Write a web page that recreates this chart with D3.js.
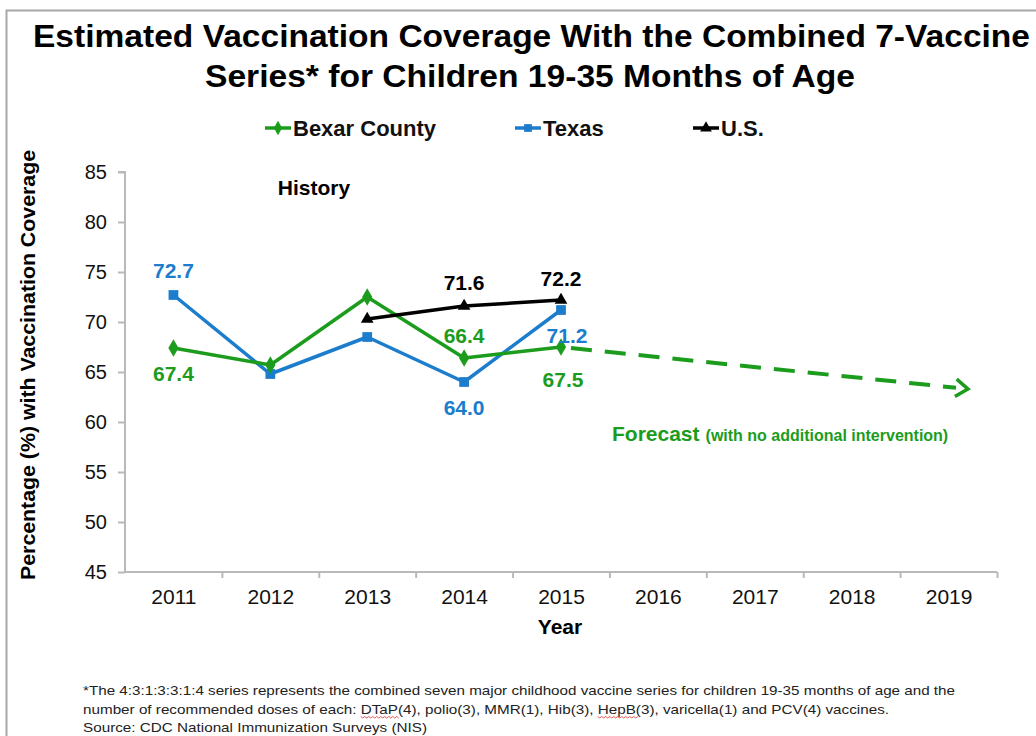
<!DOCTYPE html>
<html>
<head>
<meta charset="utf-8">
<script src="https://cdn.jsdelivr.net/npm/d3@7"></script>
<style>
  html, body { margin: 0; padding: 0; background: #fff; }
  svg text { font-family: "Liberation Sans", Arial, sans-serif; }
</style>
</head>
<body>
<svg id="chart" width="1036" height="736"></svg>
<script>
// Estimated 4:3:1:3:3:1:4 coverage, children 19-35 months
const years = [2011, 2012, 2013, 2014, 2015, 2016, 2017, 2018, 2019];
const bexarYears = [2011, 2012, 2013, 2014, 2015];
const bexarValues = [67.4, 65.7, 72.5, 66.4, 67.5];
const texasYears = [2011, 2012, 2013, 2014, 2015];
const texasValues = [72.7, 64.8, 68.5, 64.0, 71.2];
const usYears = [2013, 2014, 2015];
const usValues = [70.3, 71.6, 72.2];
// Projected trend for Bexar County without intervention
const forecastYears = [2015, 2019.2];
const forecastValues = [67.5, 63.3];
const yTicks = [45, 50, 55, 60, 65, 70, 75, 80, 85];

// Data labels: [year, value, dx, dy]
const bexarLabels = [[2011, 67.4, 0, 33], [2014, 66.4, 0, -15.5], [2015, 67.5, 2, 39.5]];
const texasLabels = [[2011, 72.7, 0, -17], [2014, 64.0, 0, 32.5], [2015, 71.2, 6, 32.5]];
const usLabels = [[2014, 71.6, 0, -16.5], [2015, 72.2, 0, -14.5]];

const GREEN = "#1c9c1c";
const BLUE = "#1b7dcc";
const BLACK = "#000000";
const AXIS = "#b9b9b9";
const FONT = "'Liberation Sans', Arial, sans-serif";

const svg = d3.select("#chart");

// Outer frame
svg.append("path")
  .attr("d", "M6.5,736 L6.5,10.5 L1036,10.5")
  .attr("fill", "none").attr("stroke", "#a8a8a8").attr("stroke-width", 2);

// Title
const title = svg.append("g").attr("font-weight", "bold").attr("font-size", 32).attr("fill", "#000");
title.append("text").attr("x", 33).attr("y", 47)
  .attr("textLength", 997).attr("lengthAdjust", "spacingAndGlyphs")
  .text("Estimated Vaccination Coverage With the Combined 7-Vaccine");
title.append("text").attr("x", 205).attr("y", 87)
  .attr("textLength", 650).attr("lengthAdjust", "spacingAndGlyphs")
  .text("Series* for Children 19-35 Months of Age");

// Scales
const x = d3.scaleLinear().domain([2010.5, 2019.5]).range([125, 997]);
const y = d3.scaleLinear().domain([45, 85]).range([572, 172]);

// Y axis
const yAxis = svg.append("g").attr("transform", "translate(125,0)")
  .call(d3.axisLeft(y).tickValues(yTicks).tickSize(7).tickPadding(11).tickFormat(d3.format("d")));
yAxis.select(".domain").attr("stroke", AXIS).attr("stroke-width", 2)
  .attr("d", `M-7,${y(85)}H0V${y(45)}`);
yAxis.selectAll(".tick line").attr("stroke", AXIS).attr("stroke-width", 2);
yAxis.selectAll(".tick text").attr("font-size", 20).attr("fill", "#111").attr("font-family", FONT);

// X axis: tick marks between categories, labels at category centers
const boundaries = d3.range(10).map(i => 2010.5 + i);
const xTicks = svg.append("g").attr("transform", `translate(0,${y(45)})`)
  .call(d3.axisBottom(x).tickValues(boundaries).tickSize(6).tickFormat(""));
xTicks.select(".domain").attr("stroke", AXIS).attr("stroke-width", 2)
  .attr("d", `M${x(2010.5)},0H${x(2019.5)}`);
xTicks.selectAll(".tick line").attr("stroke", AXIS).attr("stroke-width", 2);
xTicks.selectAll(".tick").filter(d => d === 2010.5).remove();

const xLabels = svg.append("g").attr("transform", `translate(0,${y(45)})`)
  .call(d3.axisBottom(x).tickValues(years).tickSize(0).tickPadding(17).tickFormat(d3.format("d")));
xLabels.select(".domain").remove();
xLabels.selectAll(".tick text").attr("font-size", 21).attr("fill", "#111").attr("font-family", FONT);

// Axis titles
svg.append("text").attr("x", 560).attr("y", 634).attr("text-anchor", "middle")
  .attr("font-size", 21).attr("font-weight", "bold").text("Year");
svg.append("text").attr("transform", "translate(35,365) rotate(-90)").attr("text-anchor", "middle")
  .attr("font-size", 21).attr("font-weight", "bold")
  .attr("textLength", 430).attr("lengthAdjust", "spacingAndGlyphs")
  .text("Percentage (%) with Vaccination Coverage");

// Annotations
svg.append("text").attr("x", 314).attr("y", 195).attr("text-anchor", "middle")
  .attr("font-size", 21).attr("font-weight", "bold").text("History");
const fc = svg.append("text").attr("x", 612).attr("y", 441).attr("fill", GREEN).attr("font-weight", "bold");
fc.append("tspan").attr("font-size", 21).text("Forecast");
fc.append("tspan").attr("font-size", 16).attr("dx", 6).text("(with no additional intervention)");

// Lines
const line = d3.line().x(d => x(d[0])).y(d => y(d[1]));
const zip = (a, b) => a.map((v, i) => [v, b[i]]);

// Forecast dashed line with open arrowhead
const fcPts = zip(forecastYears, forecastValues);
const p0 = [x(fcPts[0][0]), y(fcPts[0][1])];
const p1 = [x(fcPts[1][0]), y(fcPts[1][1])];
const ang = Math.atan2(p1[1] - p0[1], p1[0] - p0[0]);
const back = 12;
svg.append("line")
  .attr("x1", p0[0] + 10 * Math.cos(ang)).attr("y1", p0[1] + 10 * Math.sin(ang))
  .attr("x2", p1[0] - back * Math.cos(ang)).attr("y2", p1[1] - back * Math.sin(ang))
  .attr("stroke", GREEN).attr("stroke-width", 4).attr("stroke-dasharray", "21,13");
const ah = 15, aw = 0.62;
svg.append("path")
  .attr("d", `M${p1[0] - ah * Math.cos(ang - aw)},${p1[1] - ah * Math.sin(ang - aw)}L${p1[0]},${p1[1]}L${p1[0] - ah * Math.cos(ang + aw)},${p1[1] - ah * Math.sin(ang + aw)}`)
  .attr("fill", "none").attr("stroke", GREEN).attr("stroke-width", 3.5);

const series = [
  { name: "Texas", pts: zip(texasYears, texasValues), color: BLUE, shape: d3.symbolSquare, size: 95 },
  { name: "Bexar County", pts: zip(bexarYears, bexarValues), color: GREEN, shape: d3.symbolDiamond, size: 90 },
  { name: "U.S.", pts: zip(usYears, usValues), color: BLACK, shape: d3.symbolTriangle, size: 70 }
];

series.forEach(s => {
  svg.append("path").datum(s.pts).attr("d", line)
    .attr("fill", "none").attr("stroke", s.color).attr("stroke-width", 3.5)
    .attr("stroke-linejoin", "round");
  svg.append("g").selectAll("path").data(s.pts).join("path")
    .attr("transform", d => `translate(${x(d[0])},${y(d[1])})`)
    .attr("d", d3.symbol().type(s.shape).size(s.size))
    .attr("fill", s.color);
});

// Data labels
function addLabels(list, color) {
  svg.append("g").attr("font-size", 21).attr("font-weight", "bold").attr("fill", color)
    .attr("text-anchor", "middle")
    .selectAll("text").data(list).join("text")
    .attr("x", d => x(d[0]) + d[2])
    .attr("y", d => y(d[1]) + d[3])
    .text(d => d3.format(".1f")(d[1]));
}
addLabels(bexarLabels, GREEN);
addLabels(texasLabels, BLUE);
addLabels(usLabels, BLACK);

// Legend
const legendItems = [
  { name: "Bexar County", color: GREEN, shape: d3.symbolDiamond, x: 265 },
  { name: "Texas", color: BLUE, shape: d3.symbolSquare, x: 515 },
  { name: "U.S.", color: BLACK, shape: d3.symbolTriangle, x: 693 }
];
const lg = svg.append("g").selectAll("g").data(legendItems).join("g")
  .attr("transform", d => `translate(${d.x},128)`);
lg.append("line").attr("x1", 0).attr("x2", 26).attr("stroke", d => d.color).attr("stroke-width", 3.5);
lg.append("path").attr("transform", "translate(13,0)")
  .attr("d", d => d3.symbol().type(d.shape).size(60)()).attr("fill", d => d.color);
lg.append("text").attr("x", 28).attr("y", 8).attr("font-size", 22).attr("font-weight", "bold")
  .attr("fill", "#111").text(d => d.name);

// Footnote
const notes = [
  "*The 4:3:1:3:3:1:4 series represents the combined seven major childhood vaccine series for children 19-35 months of age and the",
  "number of recommended doses of each: DTaP(4), polio(3), MMR(1), Hib(3), HepB(3), varicella(1) and PCV(4) vaccines.",
  "Source:  CDC National Immunization Surveys (NIS)"
];
const noteWidths = [872, 806, 344];
const noteText = svg.append("g").attr("font-size", 13.5).attr("fill", "#222")
  .selectAll("text").data(notes).join("text")
  .attr("x", 83).attr("y", (d, i) => 695 + i * 18.5)
  .attr("textLength", (d, i) => noteWidths[i])
  .attr("lengthAdjust", "spacingAndGlyphs")
  .text(d => d);

// Spell-check style wavy underlines under abbreviations
const second = noteText.filter((d, i) => i === 1).node();
["DTaP", "HepB"].forEach(word => {
  const idx = notes[1].indexOf(word);
  const sx = second.getStartPositionOfChar(idx).x;
  const ex = second.getEndPositionOfChar(idx + word.length - 1).x;
  const yy = 695 + 18.5 + 3;
  let d = `M${sx},${yy}`;
  for (let px = sx, k = 0; px < ex; px += 2, k++) d += `L${px + 2},${yy + (k % 2 ? 0 : 1.5)}`;
  svg.append("path").attr("d", d).attr("fill", "none").attr("stroke", "#e03030").attr("stroke-width", 0.8);
});
</script>
</body>
</html>
